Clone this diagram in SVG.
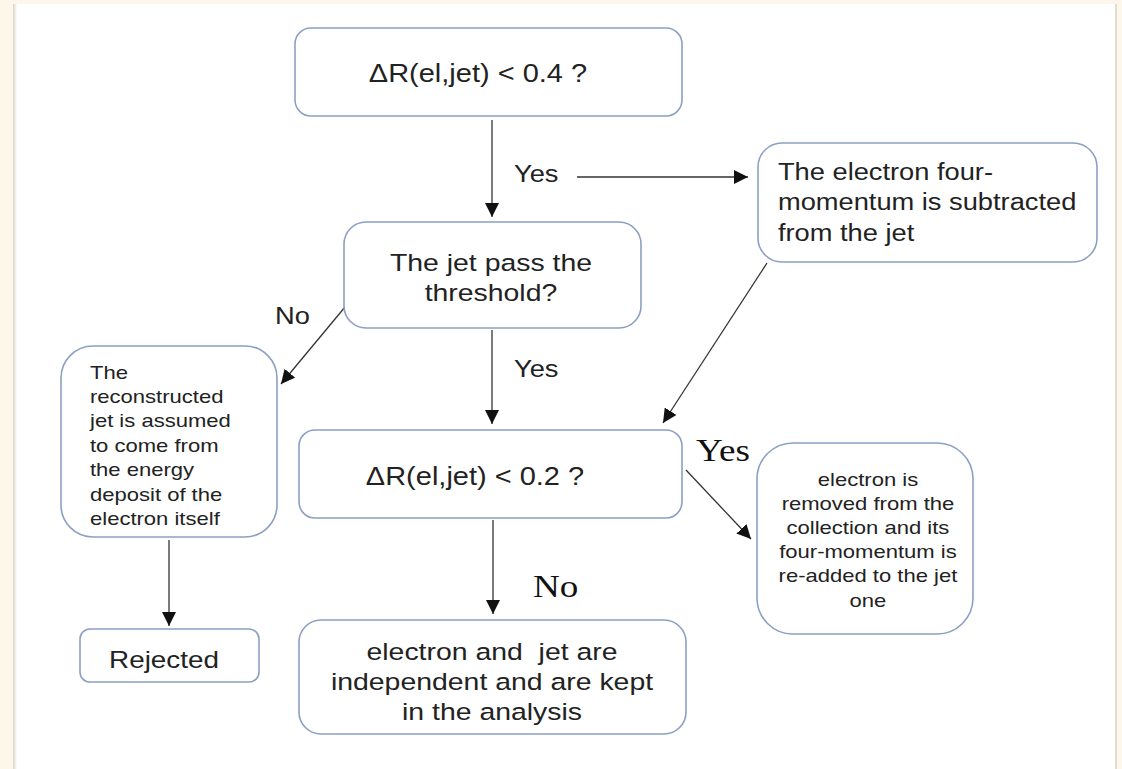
<svg xmlns="http://www.w3.org/2000/svg" width="1122" height="769" viewBox="0 0 1122 769">
<style>
.box{fill:#fff;stroke:#8d9fc4;stroke-width:1.6}
.t{font-family:"Liberation Sans",Arial,sans-serif;fill:#222}
.s{font-family:"Liberation Serif","Times New Roman",serif;fill:#111}
.c{stroke:#333;stroke-width:1.3;fill:none;marker-end:url(#ah)}
</style>
<defs>
<marker id="ah" viewBox="0 0 10 10" refX="10" refY="5" markerWidth="14" markerHeight="14" markerUnits="userSpaceOnUse" orient="auto">
<path d="M0,0 L10,5 L0,10 z" fill="#111"/>
</marker>
<linearGradient id="sh" x1="0" x2="1" y1="0" y2="0">
<stop offset="0" stop-color="#d9d4c6"/>
<stop offset="1" stop-color="#ffffff"/>
</linearGradient>
</defs>
<rect x="0" y="0" width="1122" height="769" fill="#fcf7ea"/>
<rect x="13" y="4" width="1104" height="765" fill="#fff"/>
<rect x="13" y="4" width="4" height="765" fill="url(#sh)"/>
<rect x="1115" y="4" width="2" height="765" fill="#e2ddd0"/>

<g id="connectors">
<line class="c" x1="492" y1="120" x2="492" y2="217"/>
<line class="c" x1="577" y1="177" x2="748" y2="177"/>
<line class="c" x1="492" y1="330" x2="492" y2="424"/>
<line class="c" x1="345" y1="307" x2="281" y2="384"/>
<line class="c" x1="767" y1="263" x2="663" y2="423"/>
<line class="c" x1="686" y1="470" x2="751" y2="539"/>
<line class="c" x1="493" y1="520" x2="493" y2="614"/>
<line class="c" x1="169" y1="540" x2="169" y2="626"/>
<text class="t" font-size="23.5" transform="matrix(1.16,0,0,1,-82.2,0)" x="514" y="182">Yes</text>
<text class="t" font-size="23.5" transform="matrix(1.16,0,0,1,-82.2,0)" x="514" y="377">Yes</text>
<text class="t" font-size="23.5" transform="matrix(1.16,0,0,1,-44,0)" x="275" y="324">No</text>
<text class="s" font-size="32" transform="matrix(1.16,0,0,1,-111.4,0)" x="696" y="461">Yes</text>
<text class="s" font-size="32" transform="matrix(1.16,0,0,1,-85.3,0)" x="533" y="597">No</text>
</g>

<g id="n1">
<rect class="box" x="295" y="28" width="387" height="88" rx="16"/>
<text class="t" x="478" y="82" font-size="25" text-anchor="middle" transform="matrix(1.16,0,0,1,-76.5,0)">ΔR(el,jet) &lt; 0.4 ?</text>
</g>
<g id="n2">
<rect class="box" x="758" y="143" width="339" height="119" rx="24"/>
<g class="t" font-size="23.5" transform="matrix(1.16,0,0,1,-124.5,0)">
<text x="778" y="180">The electron four-</text>
<text x="778" y="210">momentum is subtracted</text>
<text x="778" y="241">from the jet</text>
</g>
</g>
<g id="n3">
<rect class="box" x="344" y="222" width="297" height="106" rx="22"/>
<g class="t" font-size="24.5" text-anchor="middle" transform="matrix(1.16,0,0,1,-78.6,0)">
<text x="491" y="271">The jet pass the</text>
<text x="491" y="301">threshold?</text>
</g>
</g>
<g id="n4">
<rect class="box" x="61" y="346" width="216" height="191" rx="32"/>
<g class="t" font-size="19" transform="matrix(1.16,0,0,1,-14.4,0)">
<text x="90" y="379">The</text>
<text x="90" y="403">reconstructed</text>
<text x="90" y="427">jet is assumed</text>
<text x="90" y="452">to come from</text>
<text x="90" y="476">the energy</text>
<text x="90" y="501">deposit of the</text>
<text x="90" y="525">electron itself</text>
</g>
</g>
<g id="n5">
<rect class="box" x="299" y="430" width="383" height="88" rx="16"/>
<text class="t" x="475" y="485" font-size="25" text-anchor="middle" transform="matrix(1.16,0,0,1,-76,0)">ΔR(el,jet) &lt; 0.2 ?</text>
</g>
<g id="n6">
<rect class="box" x="757" y="443" width="216" height="191" rx="36"/>
<g class="t" font-size="19" text-anchor="middle" transform="matrix(1.16,0,0,1,-138.9,0)">
<text x="868" y="486">electron is</text>
<text x="868" y="510">removed from the</text>
<text x="868" y="534">collection and its</text>
<text x="868" y="558">four-momentum is</text>
<text x="868" y="582">re-added to the jet</text>
<text x="868" y="607">one</text>
</g>
</g>
<g id="n7">
<rect class="box" x="80" y="629" width="179" height="53" rx="10"/>
<text class="t" x="164" y="668" font-size="24" text-anchor="middle" transform="matrix(1.16,0,0,1,-26.2,0)">Rejected</text>
</g>
<g id="n8">
<rect class="box" x="299" y="620" width="387" height="114" rx="22"/>
<g class="t" font-size="24.5" text-anchor="middle" transform="matrix(1.16,0,0,1,-78.7,0)">
<text x="492" y="660" style="white-space:pre">electron and  jet are</text>
<text x="492" y="690">independent and are kept</text>
<text x="492" y="720">in the analysis</text>
</g>
</g>
</svg>
